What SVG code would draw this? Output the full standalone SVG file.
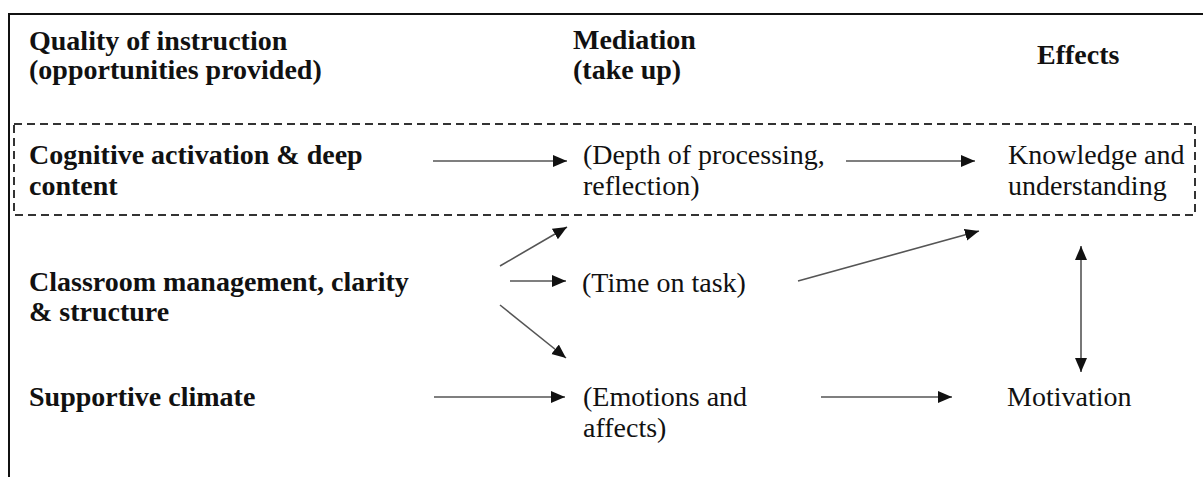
<svg xmlns="http://www.w3.org/2000/svg" width="1203" height="477" viewBox="0 0 1203 477">
<style>
.t { font-size: 28px; fill: #111; }
.b { font-weight: bold; }
.frame { stroke: #111; stroke-width: 2; fill: none; }
.dash { stroke: #333; stroke-width: 2; fill: none; stroke-dasharray: 8 5; }
.arr { stroke: #555; stroke-width: 1.6; fill: none; marker-end: url(#ah); }
.dbl { stroke: #555; stroke-width: 1.6; fill: none; marker-end: url(#ah); marker-start: url(#ah); }
</style>
<defs>
<marker id="ah" markerUnits="userSpaceOnUse" markerWidth="15" markerHeight="13" refX="14" refY="6" orient="auto-start-reverse">
<path d="M0,0 L14,6 L0,12 z" fill="#111"/>
</marker>
</defs>
<rect width="1203" height="477" fill="#fff"/>
<path class="frame" d="M9,477 L9,14 L1203,14"/>
<rect id="dashedBox" class="dash" x="14" y="124" width="1181" height="91"/>
<g font-family="'Liberation Serif', 'Times New Roman', Times, serif">
<g id="headers">
<text class="t b" x="29" y="50">Quality of instruction</text>
<text class="t b" x="29" y="79">(opportunities provided)</text>
<text class="t b" x="573" y="49">Mediation</text>
<text class="t b" x="573" y="79">(take up)</text>
<text class="t b" x="1037" y="64">Effects</text>
</g>
<g id="cognitive"><text class="t b" x="29" y="164">Cognitive activation &amp; deep</text><text class="t b" x="29" y="195">content</text></g>
<g id="depth"><text class="t" x="583" y="164">(Depth of processing,</text><text class="t" x="583" y="195">reflection)</text></g>
<g id="knowledge"><text class="t" x="1008" y="164">Knowledge and</text><text class="t" x="1008" y="195">understanding</text></g>
<g id="classroom"><text class="t b" x="29" y="291">Classroom management, clarity</text><text class="t b" x="29" y="321">&amp; structure</text></g>
<g id="time"><text class="t" x="582" y="292">(Time on task)</text></g>
<g id="supportive"><text class="t b" x="29" y="406">Supportive climate</text></g>
<g id="emotions"><text class="t" x="583" y="406">(Emotions and</text><text class="t" x="583" y="437">affects)</text></g>
<g id="motivation"><text class="t" x="1007" y="406">Motivation</text></g>
</g>
<g id="connectors">
<line class="arr" x1="433" y1="161" x2="567" y2="161"/>
<line class="arr" x1="846" y1="161" x2="975" y2="161"/>
<line class="arr" x1="500" y1="266" x2="567" y2="227"/>
<line class="arr" x1="510" y1="281" x2="566" y2="281"/>
<line class="arr" x1="500" y1="305" x2="566" y2="358"/>
<line class="arr" x1="798" y1="281" x2="979" y2="231"/>
<line class="dbl" x1="1081" y1="246" x2="1081" y2="372"/>
<line class="arr" x1="434" y1="397" x2="565" y2="397"/>
<line class="arr" x1="821" y1="397" x2="952" y2="397"/>
</g>
</svg>
